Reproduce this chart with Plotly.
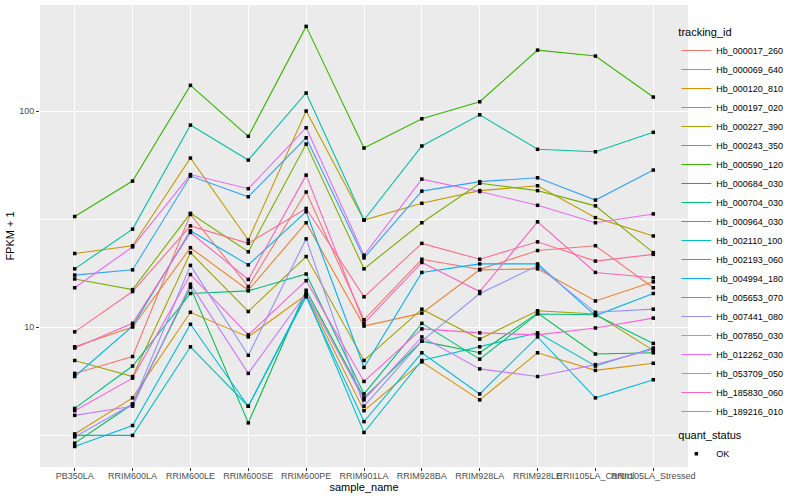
import plotly.graph_objects as go

samples = ["PB350LA", "RRIM600LA", "RRIM600LE", "RRIM600SE", "RRIM600PE", "RRIM901LA",
           "RRIM928BA", "RRIM928LA", "RRIM928LE", "RRII105LA_Control", "RRII105LA_Stressed"]

tracking_ids = ["Hb_000017_260", "Hb_000069_640", "Hb_000120_810", "Hb_000197_020",
                "Hb_000227_390", "Hb_000243_350", "Hb_000590_120", "Hb_000684_030",
                "Hb_000704_030", "Hb_000964_030", "Hb_002110_100", "Hb_002193_060",
                "Hb_004994_180", "Hb_005653_070", "Hb_007441_080", "Hb_007850_030",
                "Hb_012262_030", "Hb_053709_050", "Hb_185830_060", "Hb_189216_010"]

colors = ["#F8766D", "#EA8331", "#D89000", "#C09B00", "#A3A500", "#7CAE00", "#39B600",
          "#00BB4E", "#00BF7D", "#00C1A3", "#00BFC4", "#00BAE0", "#00B0F6", "#35A2FF",
          "#9590FF", "#C77CFF", "#E76BF3", "#FA62DB", "#FF62BC", "#FF6C91"]

# FPKM + 1 values per tracking_id, in sample order
hb_000017_260 = [6.1, 7.3, 33.2, 15.4, 42.2, 10.8, 20.6, 18.5, 22.6, 23.8, 15.2]
hb_000069_640 = [8.1, 10.0, 23.3, 14.8, 30.4, 10.1, 11.6, 18.4, 18.6, 13.2, 16.2]
hb_000120_810 = [3.2, 4.7, 11.7, 9.0, 14.1, 4.1, 6.9, 4.6, 7.6, 6.3, 6.8]
hb_000197_020 = [21.9, 23.8, 60.6, 25.3, 100.0, 31.3, 37.4, 42.8, 45.1, 32.1, 26.4]
hb_000227_390 = [7.0, 5.9, 22.1, 11.8, 21.2, 7.0, 12.1, 8.8, 11.9, 11.5, 7.8]
hb_000243_350 = [16.7, 14.9, 33.6, 22.3, 70.3, 18.6, 30.4, 46.3, 42.8, 36.4, 22.1]
hb_000590_120 = [32.5, 47.4, 131.5, 76.4, 246.6, 67.4, 92.1, 110.4, 191.5, 179.7, 116.1]
hb_000684_030 = [2.9, 4.4, 15.3, 3.6, 14.8, 4.7, 8.6, 7.6, 11.6, 7.5, 7.6]
hb_000704_030 = [4.2, 6.6, 14.3, 14.7, 17.6, 4.9, 10.4, 7.1, 11.5, 11.4, 8.4]
hb_000964_030 = [18.6, 28.4, 86.1, 59.3, 121.2, 31.3, 68.9, 96.1, 66.5, 64.8, 79.7]
hb_002110_100 = [3.15, 3.15, 8.1, 4.3, 14.1, 3.25, 7.0, 8.1, 9.4, 6.6, 8.0]
hb_002193_060 = [2.8, 3.5, 10.3, 4.3, 13.8, 3.65, 7.6, 4.9, 9.0, 4.7, 5.7]
hb_004994_180 = [5.9, 10.1, 27.9, 19.4, 34.2, 6.5, 17.9, 19.6, 19.6, 11.3, 14.3]
hb_005653_070 = [17.4, 18.4, 50.0, 40.1, 75.2, 20.9, 42.6, 47.1, 49.1, 38.7, 53.3]
hb_007441_080 = [3.1, 4.4, 19.3, 7.4, 25.6, 4.3, 8.6, 14.3, 19.2, 11.7, 12.1]
hb_007850_030 = [3.9, 4.3, 15.8, 6.1, 14.3, 4.6, 9.0, 6.4, 5.9, 6.7, 7.9]
hb_012262_030 = [15.2, 23.5, 50.8, 43.7, 83.7, 21.5, 48.4, 42.4, 36.6, 30.4, 33.4]
hb_053709_050 = [4.1, 5.8, 17.5, 9.2, 16.4, 5.6, 9.8, 9.4, 9.2, 9.9, 11.0]
hb_185830_060 = [8.0, 10.4, 27.4, 16.6, 50.5, 10.4, 19.9, 14.6, 30.7, 17.9, 16.9]
hb_189216_010 = [9.5, 14.6, 29.4, 24.4, 35.4, 13.8, 24.4, 20.6, 24.8, 20.2, 21.7]

series = [hb_000017_260, hb_000069_640, hb_000120_810, hb_000197_020, hb_000227_390,
          hb_000243_350, hb_000590_120, hb_000684_030, hb_000704_030, hb_000964_030,
          hb_002110_100, hb_002193_060, hb_004994_180, hb_005653_070, hb_007441_080,
          hb_007850_030, hb_012262_030, hb_053709_050, hb_185830_060, hb_189216_010]

y_ticks = [10, 100]
y_minor = [10 ** 0.5, 10 ** 1.5, 10 ** 2.5]

FONT = "Liberation Sans, Arial, Helvetica, sans-serif"

fig = go.Figure()
for name, col, vals in zip(tracking_ids, colors, series):
    fig.add_trace(go.Scatter(x=samples, y=vals, mode="lines", name=name,
                             line=dict(color=col, width=1.1), legend="legend"))

all_x, all_y = [], []
for vals in series:
    all_x += samples
    all_y += vals
fig.add_trace(go.Scatter(x=all_x, y=all_y, mode="markers", name="OK",
                         marker=dict(symbol="square", size=3.5, color="black"),
                         legend="legend2"))

fig.update_layout(
    width=800, height=500,
    margin=dict(l=40, r=112, t=5, b=33, autoexpand=False),
    paper_bgcolor="white", plot_bgcolor="#EBEBEB",
    font=dict(family=FONT, size=9, color="#4D4D4D"),
    showlegend=True,
    xaxis=dict(type="category", range=[-0.6, 10.6], showgrid=True, gridcolor="white",
               gridwidth=1.1, zeroline=False, showline=False, ticks="outside", ticklen=3,
               tickcolor="#333333", tickangle=0, automargin=False, ticklabelstandoff=-3,
               tickfont=dict(size=9, color="#4D4D4D"),
               title=dict(text="sample_name", font=dict(size=11, color="black"), standoff=2)),
    yaxis=dict(type="log", range=[0.352, 2.491], tickvals=y_ticks, ticktext=["10", "100"],
               showgrid=True, gridcolor="white", gridwidth=1.1, zeroline=False,
               showline=False, ticks="outside", ticklen=3, tickcolor="#333333",
               automargin=False, tickfont=dict(size=9, color="#4D4D4D"),
               minor=dict(tickvals=y_minor, showgrid=True, gridcolor="white", gridwidth=0.55,
                          ticks=""),
               title=dict(text="FPKM + 1", font=dict(size=11, color="black"), standoff=2)),
    legend=dict(title=dict(text="tracking_id", font=dict(size=11, color="black")),
                font=dict(size=9, color="black"),
                x=0.982, y=0.964, xanchor="left", yanchor="top", itemwidth=30,
                tracegroupgap=0, bgcolor="rgba(0,0,0,0)", maxheight=1.0),
    legend2=dict(title=dict(text="quant_status", font=dict(size=11, color="black")),
                 font=dict(size=9, color="black"),
                 x=0.982, y=0.091, xanchor="left", yanchor="top", itemwidth=30,
                 bgcolor="rgba(0,0,0,0)"),
)

fig.write_html("out.html", config={"displayModeBar": False},
               post_script="document.body.style.margin='0';document.body.style.overflow='hidden';")
